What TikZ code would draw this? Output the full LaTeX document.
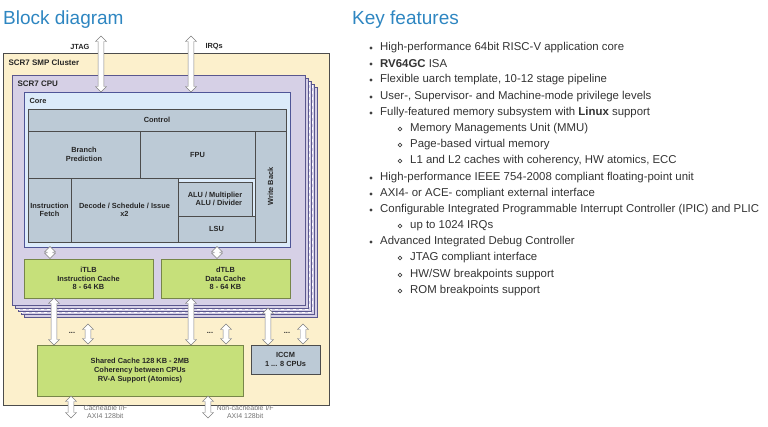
\documentclass[tikz,border=0pt]{standalone}
\usepackage{fontspec}
\setmainfont{Liberation Sans}
\usetikzlibrary{shapes.arrows}

\begin{document}
\begin{tikzpicture}[x=1pt,y=-1pt]
        \tikzset{
          blk/.style={draw=#1!60!black,line width=0.6pt},
          unit/.style={blk=gray,fill=unitgray},
          bus/.style={draw=gray,fill=white,shape=double arrow,shape border rotate=90,
            inner sep=2.4pt,minimum width=11pt,double arrow head extend=2.5pt,
            double arrow head indent=0pt},
          lbl/.style={font=\fontsize{7.4}{8.6}\selectfont\bfseries,align=center,text=black!85},
          note/.style={font=\fontsize{7}{8}\selectfont,align=center,text=black!55},
          feat/.style={anchor=west,font=\fontsize{11.4}{13}\selectfont,text=black!80,inner sep=0pt},
        }
        \definecolor{titleblue}{HTML}{2E86C1}
        \definecolor{clust}{HTML}{FCF0CC}
        \definecolor{cpu}{HTML}{D6D0E6}
        \definecolor{core}{HTML}{DCEBFA}
        \definecolor{unitgray}{HTML}{BCCAD6}
        \definecolor{cache}{HTML}{C6E07A}
        \useasboundingbox (0,0) rectangle (768,427);
        % titles
        \node[anchor=west,text=titleblue,font=\fontsize{19}{22}\selectfont,inner sep=0pt] (t1) at (3,20) {Block diagram};
        \node[anchor=west,text=titleblue,font=\fontsize{19}{22}\selectfont,inner sep=0pt] (t2) at (352,20) {Key features};
        % cluster and cpu stack
        \draw[blk=gray,fill=clust] (3,53) rectangle (329,405);
        \node[lbl,anchor=west,font=\fontsize{8}{9}\selectfont\bfseries] (cl) at (5,63) {SCR7 SMP Cluster};
        \foreach \d in {12,9,6,3} {
          \draw[blk=cpu!70!blue,fill=cpu] (12+\d,75+\d) rectangle (305+\d,305+\d);
        }
        \draw[white,dashed] (309,82) -- (309,309) -- (18,309);
        \draw[white,dashed] (312,85) -- (312,312) -- (21,312);
        \draw[blk=cpu!70!blue,fill=cpu] (12,75) rectangle (305,305);
        \node[lbl,anchor=west,font=\fontsize{8}{9}\selectfont\bfseries] (cpul) at (14,84) {SCR7 CPU};
        % core
        \draw[blk=core!60!blue,fill=core] (24,92) rectangle (290,247);
        \node[lbl,anchor=west] (corel) at (26,101) {Core};
        \draw[unit] (28,109) rectangle (286,131) node[lbl,midway] (ctl) {Control};
        \draw[unit] (28,131) rectangle (140,178) node[lbl,midway] (bp) {Branch\\Prediction};
        \draw[unit] (140,131) rectangle (255,178) node[lbl,midway] (fpu) {FPU};
        \draw[unit] (255,131) rectangle (286,242) node[lbl,midway,rotate=90] (wb) {Write Back};
        \draw[unit] (28,178) rectangle (71,242) node[lbl,midway] (ifu) {Instruction\\Fetch};
        \draw[unit] (71,178) rectangle (178,242) node[lbl,midway] (dec) {Decode / Schedule / Issue\\x2};
        \draw[unit] (178,182) rectangle (252,216) node[lbl,midway,align=right] (alu) {ALU / Multiplier\\ALU / Divider};
        \draw[unit] (178,216) rectangle (255,242) node[lbl,midway] (lsu) {LSU};
        % caches
        \draw[blk=cache,fill=cache] (24,259) rectangle (153,298) node[lbl,midway] (itlb) {iTLB\\Instruction Cache\\8 - 64 KB};
        \draw[blk=cache,fill=cache] (161,259) rectangle (290,298) node[lbl,midway] (dtlb) {dTLB\\Data Cache\\8 - 64 KB};
        \draw[blk=cache,fill=cache] (37,345) rectangle (243,396) node[lbl,midway] (l2) {Shared Cache 128 KB - 2MB\\Coherency between CPUs\\RV-A Support (Atomics)};
        \draw[unit] (251,345) rectangle (320,374) node[lbl,midway] (iccm) {ICCM\\1 ... 8 CPUs};
        % buses
        \node[bus,minimum height=56pt] (jtag) at (101,64) {};
        \node[bus,minimum height=56pt] (irq) at (191,64) {};
        \node[lbl,anchor=east] at (93,47) {JTAG};
        \node[lbl,anchor=west] at (202,47) {IRQs};
        \node[bus,minimum height=12pt] (b1) at (50,252.5) {};
        \node[bus,minimum height=12pt] (b2) at (217,252.5) {};
        \node[bus,minimum height=47pt] (b3) at (54,321.5) {};
        \node[bus,minimum height=47pt] (b4) at (191,321.5) {};
        \node[bus,minimum height=37pt] (b5) at (268,326.5) {};
        \foreach \x in {88,226,303} {
          \node[bus,minimum height=20pt] (s\x) at (\x,334) {};
          \node[lbl] (dots\x) at (\x-16,333) {...};
        }
        \node[bus,minimum height=22pt] (b6) at (71,407) {};
        \node[bus,minimum height=22pt] (b7) at (208,407) {};
        \node[note,anchor=west] (n1) at (80,412) {Cacheable I/F\\AXI4 128bit};
        \node[note,anchor=west] (n2) at (213,412) {Non-cacheable I/F\\AXI4 128bit};
        % features
        \foreach \y/\t in {48/High-performance 64bit RISC-V application core,
            64/{\textbf{RV64GC} ISA},
            80/{Flexible uarch template, 10-12 stage pipeline},
            97/{User-, Supervisor- and Machine-mode privilege levels},
            113/{Fully-featured memory subsystem with \textbf{Linux} support},
            178/High-performance IEEE 754-2008 compliant floating-point unit,
            194/AXI4- or ACE- compliant external interface,
            210/Configurable Integrated Programmable Interrupt Controller (IPIC) and PLIC,
            242/Advanced Integrated Debug Controller} {
          \fill[black!75] (371,\y) circle (1.6);
          \node[feat] at (380,\y) {\t};
        }
        \foreach \y/\t in {129/Memory Managements Unit (MMU),
            145/Page-based virtual memory,
            161/{L1 and L2 caches with coherency, HW atomics, ECC},
            226/up to 1024 IRQs,
            258/JTAG compliant interface,
            275/{HW/SW breakpoints support},
            291/ROM breakpoints support} {
          \draw[black!75,line width=0.6pt] (400,\y) circle (1.9);
          \node[feat] at (410,\y) {\t};
        }
\end{tikzpicture}
\end{document}
